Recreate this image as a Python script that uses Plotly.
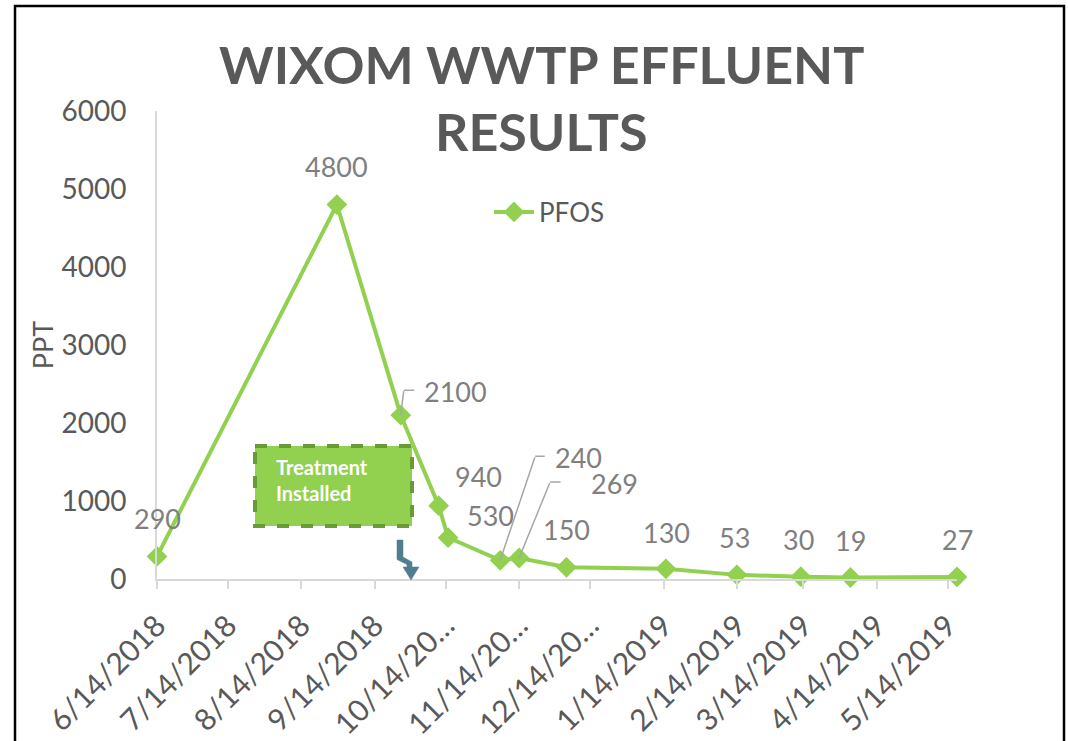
import plotly.graph_objects as go

# ---------------- data ----------------
dates = ["2018-06-14", "2018-08-29", "2018-09-25", "2018-10-11", "2018-10-15",
         "2018-11-06", "2018-11-14", "2018-12-04", "2019-01-15", "2019-02-14",
         "2019-03-13", "2019-04-03", "2019-05-18"]
pfos = [290, 4800, 2100, 940, 530, 240, 269, 150, 130, 53, 30, 19, 27]

tick_dates = ["2018-06-14", "2018-07-14", "2018-08-14", "2018-09-14", "2018-10-14",
              "2018-11-14", "2018-12-14", "2019-01-14", "2019-02-14", "2019-03-14",
              "2019-04-14", "2019-05-14"]
tick_labels = ["6/14/2018", "7/14/2018", "8/14/2018", "9/14/2018", "10/14/20…",
               "11/14/20…", "12/14/20…", "1/14/2019", "2/14/2019", "3/14/2019",
               "4/14/2019", "5/14/2019"]
y_ticks = [0, 1000, 2000, 3000, 4000, 5000, 6000]

series_name = "PFOS"
title_lines = ["WIXOM WWTP EFFLUENT", "RESULTS"]
y_title = "PPT"
note_text = "Treatment<br>Installed"

# label offsets (px, screen: +x right, +y down) - styling only
label_offsets = [(0, -38), (0, -38), (55, -24), (40, -29), (42, -22),
                 (78, -103), (95, -75), (0, -38), (1, -36), (-2, -37),
                 (-2, -37), (0, -37), (0, -37)]
# leader lines: index -> (elbow dx, elbow dy, horizontal length)
leaders = {2: (3, -25, 11), 5: (35, -104, 10), 6: (31, -76, 11)}

# ---------------- layout geometry ----------------
FW, FH = 1068, 741
L, T = 157, 111
PW, PH = 800, 468
R, B = FW - L - PW, FH - T - PH


def pp(px, py):
    """screen pixel -> paper coordinates"""
    return (px - L) / PW, (T + PH - py) / PH


GREEN = "#92D050"
DARK_GREEN = "#6A9A36"
GRAY_TXT = "#595959"
GRAY_LBL = "#7F7F7F"
AXIS_GRAY = "#D9D9D9"
FONT = "Lato"

fig = go.Figure()
fig.add_trace(go.Scatter(
    x=dates, y=pfos, mode="lines+markers", name=series_name,
    line=dict(color=GREEN, width=4),
    marker=dict(symbol="diamond", size=16, color=GREEN),
    cliponaxis=False,
))

annotations = []
# data labels
for i, (d, v) in enumerate(zip(dates, pfos)):
    dx, dy = label_offsets[i]
    annotations.append(dict(
        x=d, y=v, xref="x", yref="y", text=str(v), showarrow=False,
        xshift=dx, yshift=-dy, font=dict(family=FONT, size=27, color=GRAY_LBL),
    ))
# leader lines
for i, (ex, ey, hl) in leaders.items():
    annotations.append(dict(
        x=dates[i], y=pfos[i], xref="x", yref="y", text=" ", showarrow=True,
        ax=ex, ay=ey, arrowhead=0, arrowwidth=1.5, arrowcolor="#A6A6A6",
        standoff=0, font=dict(size=1), borderpad=0,
    ))
    annotations.append(dict(
        x=dates[i], y=pfos[i], xref="x", yref="y", text=" ", showarrow=True,
        xshift=ex, yshift=-ey, ax=hl, ay=0, arrowhead=0, arrowwidth=1.5,
        arrowcolor="#A6A6A6", standoff=0, font=dict(size=1), borderpad=0,
    ))

# title lines
for txt, cy in zip(title_lines, [64, 131]):
    x, y = pp(541, cy)
    annotations.append(dict(
        x=x, y=y, xref="paper", yref="paper", text="<b>" + txt + "</b>",
        showarrow=False, xanchor="center", yanchor="middle",
        font=dict(family=FONT, size=52, color=GRAY_TXT),
    ))

# treatment installed text
tx, ty = pp(274, 480)
annotations.append(dict(
    x=tx, y=ty, xref="paper", yref="paper", text="<b>" + note_text + "</b>",
    showarrow=False, xanchor="left", yanchor="middle", align="left",
    font=dict(family=FONT, size=20, color="white"),
))

shapes = []
# outer frame
fx0, fy0 = pp(15, 6)
fx1, fy1 = pp(1064, 790)
shapes.append(dict(type="rect", xref="paper", yref="paper", x0=fx0, y0=fy0, x1=fx1, y1=fy1,
                   line=dict(color="black", width=2.5), fillcolor="rgba(0,0,0,0)", layer="below"))
# treatment box
bx0, by0 = pp(255, 446)
bx1, by1 = pp(412, 526)
shapes.append(dict(type="rect", xref="paper", yref="paper", x0=bx0, y0=by0, x1=bx1, y1=by1,
                   line=dict(color=DARK_GREEN, width=4, dash="dash"), fillcolor=GREEN))
# bent arrow
arrow_px = [(397, 540), (403, 540), (403, 557), (412, 562), (412, 567), (419, 567),
            (411, 580), (403, 567), (407, 567), (407, 564.5), (397, 559.5)]
pts = [pp(a, b) for a, b in arrow_px]
path = "M" + " L".join(f"{a:.5f},{b:.5f}" for a, b in pts) + " Z"
shapes.append(dict(type="path", xref="paper", yref="paper", path=path,
                   fillcolor="#4F7F8E", line=dict(color="#4F7F8E", width=0.5)))

lx, ly = pp(489, 212)
fig.update_layout(
    width=FW, height=FH,
    margin=dict(l=L, r=R, t=T, b=B, autoexpand=False),
    paper_bgcolor="white", plot_bgcolor="white",
    showlegend=True,
    legend=dict(x=lx, y=ly, xanchor="left", yanchor="middle", bgcolor="rgba(0,0,0,0)",
                font=dict(family=FONT, size=26, color=GRAY_TXT), itemwidth=40),
    annotations=annotations, shapes=shapes,
    xaxis=dict(
        type="date", range=["2018-06-14", "2019-05-18"], automargin=False,
        tickvals=tick_dates, ticktext=tick_labels, tickangle=-45,
        tickfont=dict(family=FONT, size=30, color=GRAY_TXT),
        showgrid=False, zeroline=False, showline=True, linecolor=AXIS_GRAY, linewidth=2,
        ticks="outside", ticklen=8, tickcolor=AXIS_GRAY, tickwidth=1.5,
        ticklabelstandoff=7,
    ),
    yaxis=dict(
        range=[0, 6000], tickvals=y_ticks, automargin=False,
        tickfont=dict(family=FONT, size=28, color=GRAY_TXT),
        showgrid=False, zeroline=False, showline=True, linecolor=AXIS_GRAY, linewidth=2,
        ticks="", ticklabelstandoff=23,
        title=dict(text=y_title, font=dict(family=FONT, size=27, color=GRAY_TXT), standoff=0),
    ),
)

fig.write_html(
    "out.html",
    config={"displayModeBar": False},
    post_script="document.body.style.margin='0';document.body.style.overflow='hidden';",
)
